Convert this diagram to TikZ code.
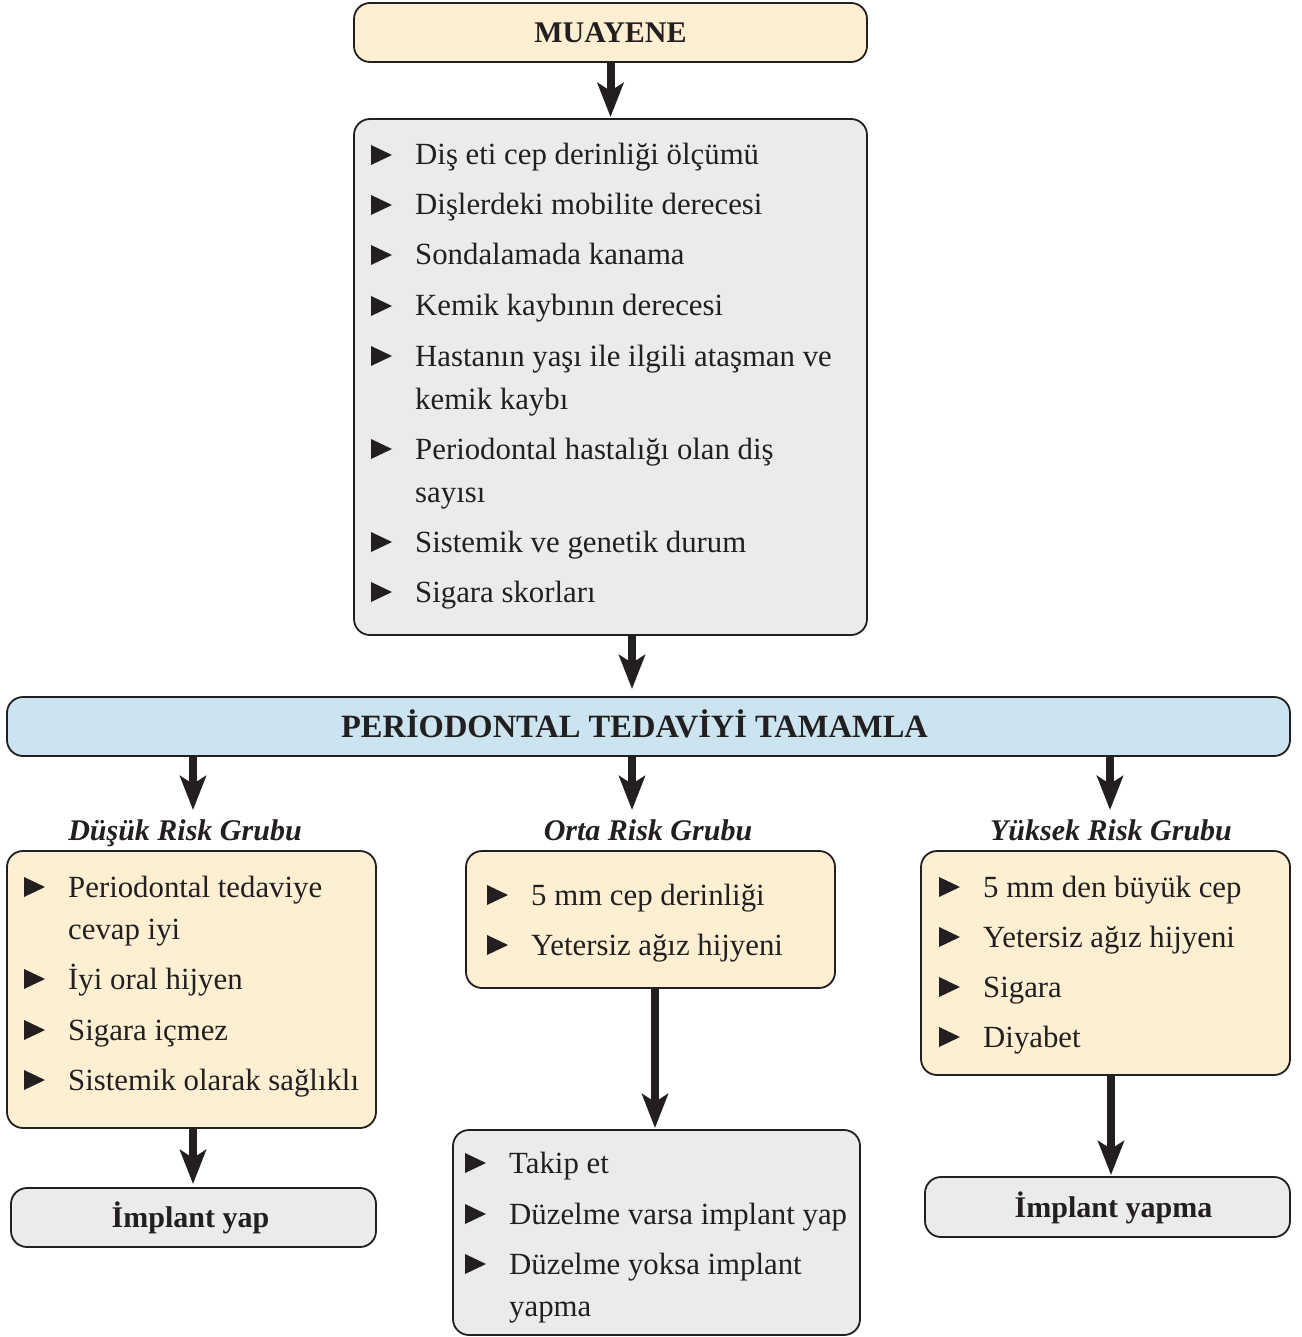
\documentclass[tikz,border=0pt]{standalone}
\usepackage{fontspec}
\setmainfont{Liberation Serif}
\usetikzlibrary{arrows.meta}

\definecolor{edge}{HTML}{231F20}
\definecolor{cream}{HTML}{FDEFD2}
\definecolor{pale}{HTML}{EBEBED}
\definecolor{sky}{HTML}{CBE4EF}

\newcounter{li}
% bullet item: text x, baseline y, text
\newcommand\bitem[3]{%
  \stepcounter{li}%
  \fill[edge] (#1-44,#2) -- (#1-44,#2-20) -- (#1-23,#2-10) -- cycle;
  \node[itm] (t\arabic{li}) at (#1,#2) {#3};}
% continuation line of an item
\newcommand\citem[3]{%
  \stepcounter{li}%
  \node[itm] (t\arabic{li}) at (#1,#2) {#3};}

\tikzset{
  box/.style={draw=edge, line width=1.8pt, rounded corners=16pt, inner sep=0pt},
  head/.style={box, font=\bfseries\fontsize{30}{36}\selectfont, text=edge,
               text height=20pt, text depth=0pt},
  itm/.style={anchor=base west, inner sep=0pt, text=edge,
              font=\fontsize{30.8}{36}\selectfont},
  grp/.style={anchor=base, inner sep=0pt, text=edge,
              font=\bfseries\itshape\fontsize{30}{36}\selectfont},
  arr/.style={draw=edge, line width=8pt,
              -{Stealth[length=34pt,width=26pt,inset=8pt]}},
}

\begin{document}
\begin{tikzpicture}[x=1pt,y=-1pt]
\useasboundingbox[fill=white] (0,0) rectangle (1301,1337);

% main column
\node[head, fill=cream, minimum width=513pt, minimum height=59pt]
  (muayene) at (610.5,32.5) {MUAYENE};
\node[box, fill=pale, minimum width=513pt, minimum height=516pt]
  (exam) at (610.5,377) {};
\bitem{415}{165}{Diş eti cep derinliği ölçümü}
\bitem{415}{215}{Dişlerdeki mobilite derecesi}
\bitem{415}{265}{Sondalamada kanama}
\bitem{415}{316}{Kemik kaybının derecesi}
\bitem{415}{366}{Hastanın yaşı ile ilgili ataşman ve}
\citem{415}{409}{kemik kaybı}
\bitem{415}{459}{Periodontal hastalığı olan diş}
\citem{415}{502}{sayısı}
\bitem{415}{552}{Sistemik ve genetik durum}
\bitem{415}{602}{Sigara skorları}

\node[head, fill=sky, minimum width=1283pt, minimum height=59pt,
      font=\bfseries\fontsize{32.5}{38}\selectfont, text height=22pt]
  (perio) at (648.5,726.5) {PERİODONTAL TEDAVİYİ TAMAMLA\kern28pt};

% risk groups
\node[grp] (glow)  at (185,840)  {Düşük Risk Grubu};
\node[grp] (gmid)  at (648,840)  {Orta Risk Grubu};
\node[grp] (ghigh) at (1111,840) {Yüksek Risk Grubu};

\node[box, fill=cream, minimum width=369pt, minimum height=277pt]
  (low) at (191.5,989.5) {};
\bitem{68}{897}{Periodontal tedaviye}
\citem{68}{939}{cevap iyi}
\bitem{68}{989}{İyi oral hijyen}
\bitem{68}{1040}{Sigara içmez}
\bitem{68}{1090}{Sistemik olarak sağlıklı}

\node[box, fill=cream, minimum width=369pt, minimum height=137pt]
  (mid) at (650.5,919.5) {};
\bitem{531}{905}{5 mm cep derinliği}
\bitem{531}{955}{Yetersiz ağız hijyeni}

\node[box, fill=cream, minimum width=369pt, minimum height=224pt]
  (high) at (1105.5,963) {};
\bitem{983}{897}{5 mm den büyük cep}
\bitem{983}{947}{Yetersiz ağız hijyeni}
\bitem{983}{997}{Sigara}
\bitem{983}{1047}{Diyabet}

% outcomes
\node[head, fill=pale, minimum width=365pt, minimum height=59pt]
  (yap) at (193.5,1217.5) {İmplant yap\kern6pt};
\node[box, fill=pale, minimum width=407pt, minimum height=205pt]
  (follow) at (656.5,1232.5) {};
\bitem{509}{1173}{Takip et}
\bitem{509}{1224}{Düzelme varsa implant yap}
\bitem{509}{1274}{Düzelme yoksa implant}
\citem{509}{1316}{yapma}
\node[head, fill=pale, minimum width=365pt, minimum height=60pt]
  (yapma) at (1107.5,1207) {\kern12ptİmplant yapma};

% arrow tips
\coordinate (p1) at (610.5,117);
\coordinate (p2) at (632,689);
\coordinate (pl) at (193,810);
\coordinate (pm) at (632,810);
\coordinate (pr) at (1110,810);
\coordinate (py) at (193,1184);
\coordinate (pf) at (655,1128);
\coordinate (pn) at (1111,1175);

% connectors
\draw[arr] (muayene.south) -- (p1);
\draw[arr] (exam.south -| p2) -- (p2);
\draw[arr] (perio.south -| pl) -- (pl);
\draw[arr] (perio.south -| pm) -- (pm);
\draw[arr] (perio.south -| pr) -- (pr);
\draw[arr] (low.south -| py) -- (py);
\draw[arr] (mid.south -| pf) -- (pf);
\draw[arr] (high.south -| pn) -- (pn);
\end{tikzpicture}
\end{document}
